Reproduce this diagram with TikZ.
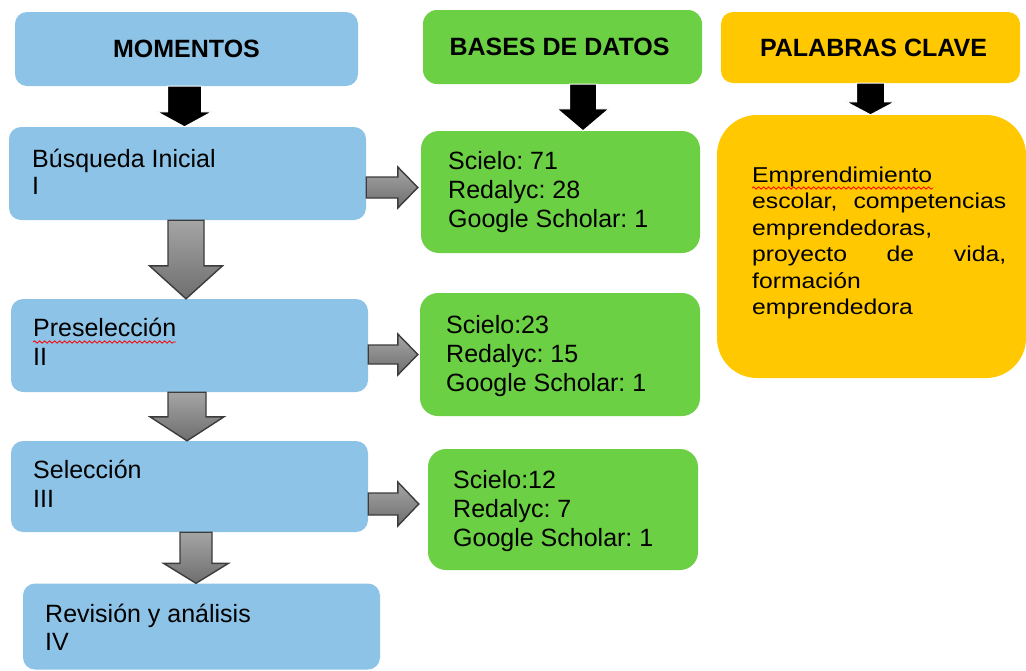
\documentclass[tikz,border=0pt]{standalone}
\usepackage{fontspec}
\setmainfont{Liberation Sans}
\newfontfamily\widesans[FakeStretch=1.15]{Liberation Sans}
\frenchspacing
\usetikzlibrary{calc,decorations.pathmorphing}
\definecolor{boxblue}{RGB}{141,195,230}
\definecolor{boxgreen}{RGB}{107,208,67}
\definecolor{boxyellow}{RGB}{255,200,0}
\definecolor{arrowline}{RGB}{60,60,60}
\definecolor{graytop}{RGB}{165,165,165}
\definecolor{graybot}{RGB}{110,110,110}
\newcommand\blockdown[6]{%
  \draw[#6] let \p1=(#1), \p2=(#2) in
    (\x1-#3,\y1) -- (\x1+#3,\y1) -- (\x1+#3,\y2+#5) -- (\x1+#4,\y2+#5) --
    (\x1,\y2) -- (\x1-#4,\y2+#5) -- (\x1-#3,\y2+#5) -- cycle;}
\newcommand\blockright[6]{%
  \draw[#6] let \p1=(#1), \p2=(#2) in
    (\x1,\y1+#3) -- (\x2-#5,\y1+#3) -- (\x2-#5,\y1+#4) -- (\x2,\y1) --
    (\x2-#5,\y1-#4) -- (\x2-#5,\y1-#3) -- (\x1,\y1-#3) -- cycle;}
\tikzset{
  bluebox/.style={fill=boxblue, rounded corners=12pt, inner sep=0pt},
  greenbox/.style={fill=boxgreen, rounded corners=18pt, inner sep=0pt},
  yellowbox/.style={fill=boxyellow, rounded corners=12pt, inner sep=0pt},
  head/.style={font=\fontsize{25}{29}\selectfont\bfseries\frenchspacing, text=black},
  body/.style={font=\fontsize{25}{29}\selectfont\frenchspacing, text=black, anchor=base west, inner sep=0pt},
  blackarrow/.style={fill=black, draw=white, line width=1pt},
  grayarrow/.style={top color=graytop, bottom color=graybot, draw=arrowline, line width=1.4pt, line join=miter},
  squiggle/.style={draw=red, line width=0.8pt, decorate, decoration={snake, segment length=5pt, amplitude=1.2pt}}
}
\begin{document}
\begin{tikzpicture}[x=1pt,y=-1pt]
\useasboundingbox (0,0) rectangle (1026,670);
% boxes
\node[bluebox, minimum width=343, minimum height=74] (mom) at (186.5,49) {};
\node[bluebox, minimum width=357, minimum height=93] (bus) at (187.5,173.5) {};
\node[bluebox, minimum width=357, minimum height=93] (pre) at (189.5,345.5) {};
\node[bluebox, minimum width=357, minimum height=91] (sel) at (189.5,486.5) {};
\node[bluebox, minimum width=357, minimum height=86] (rev) at (201.5,626.5) {};
\node[greenbox, rounded corners=14pt, minimum width=279, minimum height=74] (bases) at (562.5,47) {};
\node[greenbox, minimum width=279, minimum height=122] (g1) at (560.5,192) {};
\node[greenbox, minimum width=280, minimum height=123] (g2) at (560,354.5) {};
\node[greenbox, minimum width=270, minimum height=121] (g3) at (563,509.5) {};
\node[yellowbox, minimum width=299, minimum height=71] (pal) at (870.5,47.5) {};
\node[yellowbox, rounded corners=40pt, minimum width=309, minimum height=263] (kw) at (871.5,246.5) {};
% headers
\node[head] (tmom) at (mom.center) {MOMENTOS};
\node[head] (tbases) at ($(bases.center)+(-3,0)$) {BASES DE DATOS};
\node[head] (tpal) at ($(pal.center)+(3,0)$) {PALABRAS CLAVE};
% body texts
\node[body] (tbus) at (32,167) {\begin{tabular}[t]{@{}l@{}}Búsqueda Inicial\\[-2pt] I\end{tabular}};
\node[body] (tpre) at (33,336) {\begin{tabular}[t]{@{}l@{}}Preselección\\ II\end{tabular}};
\node[body] (tsel) at (33,478) {\begin{tabular}[t]{@{}l@{}}Selección\\ III\end{tabular}};
\node[body] (trev) at (45,622) {\begin{tabular}[t]{@{}l@{}}Revisión y análisis\\[-1pt] IV\end{tabular}};
\node[body] (tg1) at (448,169) {\begin{tabular}[t]{@{}l@{}}Scielo: 71\\ Redalyc: 28\\ Google Scholar: 1\end{tabular}};
\node[body] (tg2) at (446,333) {\begin{tabular}[t]{@{}l@{}}Scielo:23\\ Redalyc: 15\\ Google Scholar: 1\end{tabular}};
\node[body] (tg3) at (453,488) {\begin{tabular}[t]{@{}l@{}}Scielo:12\\ Redalyc: 7\\ Google Scholar: 1\end{tabular}};
\node[body, font=\fontsize{21.5}{26.5}\selectfont\widesans\frenchspacing] (tkw) at (752,182)
  {\begin{tabular}[t]{@{}l@{}}Emprendimiento\\
   \makebox[254pt][s]{escolar, competencias}\\
   emprendedoras,\\
   \makebox[254pt][s]{proyecto de vida,}\\
   formación\\
   emprendedora\end{tabular}};
% spell-check squiggles
\draw[squiggle] (33,342) -- (176,342);
\draw[squiggle] (752,188) -- (933,188);
% black arrows
\blockdown{mom.south -| 184.5,0}{bus.north -| 184.5,0}{17pt}{27.5pt}{15pt}{blackarrow}
\blockdown{bases.south -| 583,0}{g1.north -| 583,0}{13.5pt}{26pt}{22pt}{blackarrow}
\blockdown{pal.south -| 870.5,0}{kw.north -| 870.5,0}{14pt}{24.5pt}{13pt}{blackarrow}
% gray down arrows
\blockdown{bus.south -| 186,0}{pre.north -| 186,0}{18pt}{36.5pt}{33pt}{grayarrow}
\blockdown{pre.south -| 187,0}{sel.north -| 187,0}{19pt}{37pt}{24pt}{grayarrow}
\blockdown{sel.south -| 196,0}{rev.north -| 196,0}{16pt}{32.5pt}{20pt}{grayarrow}
% gray right arrows
\blockright{bus.east |- 0,187.5}{$(g1.west |- 0,187.5)+(-3,0)$}{10.5pt}{20.5pt}{20pt}{grayarrow}
\blockright{pre.east |- 0,354.5}{$(g2.west |- 0,354.5)+(-2,0)$}{9.5pt}{20.5pt}{20pt}{grayarrow}
\blockright{sel.east |- 0,504}{$(g3.west |- 0,504)+(-9,0)$}{11pt}{22pt}{21pt}{grayarrow}
\end{tikzpicture}
\end{document}
